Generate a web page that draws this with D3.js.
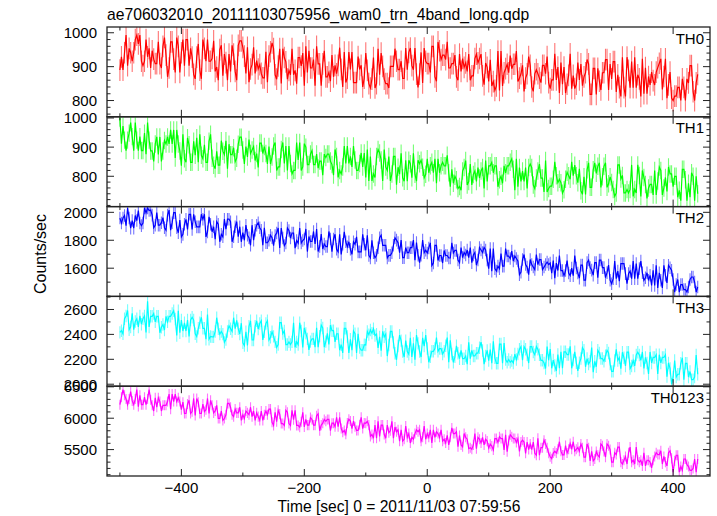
<!DOCTYPE html>
<html><head><meta charset="utf-8">
<script src="https://cdn.jsdelivr.net/npm/d3@7"></script>
<style>
body{margin:0;background:#fff}
svg{display:block}
text{font-family:"Liberation Sans",Arial,Helvetica,sans-serif;fill:#000}
</style></head>
<body><svg id="c" width="717" height="516"></svg>
<script>
const titleText = "ae706032010_20111103075956_wam0_trn_4band_long.qdp";
const xLabel = "Time [sec] 0 = 2011/11/03 07:59:56";
const yLabel = "Counts/sec";
const bandNames = ["TH0","TH1","TH2","TH3","TH0123"];
const bandColors = ["#ff0000","#00ff00","#0000ff","#00ffff","#ff00ff"];
const timeStart = -500, timeStep = 2.5;

const th0 = [
890,929,890,941,993,903,954,941,916,941,980,993,967,993,916,903,916,980,929,954,
896,947,922,909,909,973,909,896,960,986,934,870,896,973,973,922,883,986,960,883,
941,980,903,980,980,903,954,928,877,864,928,967,890,864,980,954,916,980,916,916,
924,976,886,899,860,950,963,873,937,912,860,937,886,963,937,886,860,963,976,976,
957,931,880,957,854,893,906,957,880,918,893,906,880,867,867,944,854,931,944,970,
953,876,863,902,953,850,953,927,914,863,889,876,953,876,889,850,927,927,902,940,
844,960,883,947,896,896,921,844,960,908,908,844,908,947,870,870,883,857,934,870,
904,879,904,956,892,840,943,853,866,943,892,943,853,853,853,930,892,904,840,866,
940,889,850,837,863,927,837,850,953,876,940,901,863,850,850,837,901,901,901,953,
916,891,891,916,865,865,955,891,942,955,903,891,955,878,839,878,942,852,955,916,
909,909,883,960,960,870,857,973,947,921,934,934,921,973,896,896,909,909,934,870,
860,937,886,924,898,911,886,937,860,873,873,924,937,911,924,937,873,847,911,898,
856,920,843,856,830,843,946,830,946,843,882,894,907,882,933,894,907,907,946,856,
866,879,904,827,866,879,930,904,840,827,879,891,879,866,853,904,904,879,930,853,
835,861,861,938,861,899,822,912,848,899,822,848,874,938,835,874,835,848,912,861,
908,844,870,882,921,908,818,818,895,895,818,895,857,831,882,882,921,921,831,908,
864,915,915,825,876,838,812,928,838,812,928,889,838,915,838,928,838,876,864,812,
923,820,897,820,871,846,884,859,846,884,897,910,923,833,871,923,807,846,884,807,
800,813,813,839,839,800,864,839,800,864,852,903,903,826,800,852,877];

const th1 = [
1000,912,972,924,888,924,948,984,936,888,984,924,888,936,888,888,948,876,984,924,
887,887,851,911,935,875,935,851,887,923,911,935,911,959,911,959,863,959,911,887,
836,944,860,848,932,908,848,848,920,872,932,848,944,872,860,908,848,848,920,944,
862,838,826,886,838,838,922,886,874,922,826,910,874,874,898,850,862,910,934,934,
890,842,902,866,926,878,890,902,854,878,830,914,914,878,902,878,842,902,842,866,
904,916,820,832,832,892,916,844,904,820,904,844,808,820,820,916,856,916,820,832,
912,900,840,840,876,888,840,840,876,828,852,852,804,876,864,876,876,852,840,804,
892,868,796,820,808,832,904,844,904,844,868,832,904,856,820,820,844,880,832,880,
796,892,784,868,784,808,796,868,892,880,856,784,892,832,820,868,784,808,868,868,
771,831,807,879,795,783,855,783,855,843,795,879,807,783,855,843,855,831,795,807,
860,812,836,848,812,860,776,860,812,836,848,836,836,872,812,764,824,776,800,788,
758,765,752,818,830,854,770,782,842,770,806,818,782,830,794,818,830,758,854,782,
836,836,848,812,836,836,764,788,800,776,836,812,836,836,848,860,824,752,860,764,
830,782,818,782,830,758,830,842,830,770,758,794,818,842,794,794,746,854,746,758,
766,766,790,850,802,778,790,778,742,754,790,814,802,790,850,802,838,802,778,826,
750,738,798,738,822,846,762,762,822,846,810,834,846,762,798,834,846,762,774,798,
779,755,731,743,839,839,791,803,743,743,755,743,755,839,731,755,743,839,803,731,
820,796,772,724,760,772,772,736,820,736,784,832,820,736,760,796,748,832,808,808,
764,800,800,728,752,716,824,824,788,716,776,728,812,800,716,800,740];

const th2 = [
1959,1923,1959,1977,1905,2031,1959,1887,1941,1887,1977,1941,2013,1923,1905,1923,2031,1995,2031,2013,
2016,1980,1890,1908,1998,1908,1908,1926,1962,1890,1872,1980,2016,1872,1926,1998,1998,1890,1854,1944,
1824,1842,1914,1950,1878,1986,1986,1878,1986,1932,1896,1896,1896,1986,1950,1986,1824,1860,1968,1914,
1861,1897,1807,1933,1915,1789,1843,1825,1951,1879,1951,1951,1933,1789,1825,1897,1933,1825,1897,1789,
1854,1800,1908,1836,1818,1764,1908,1800,1872,1908,1926,1890,1872,1764,1890,1782,1782,1800,1836,1818,
1762,1834,1852,1888,1744,1888,1816,1762,1780,1888,1870,1816,1852,1852,1744,1798,1780,1888,1780,1798,
1809,1881,1719,1827,1791,1791,1863,1773,1881,1719,1755,1845,1737,1773,1755,1755,1863,1809,1719,1809,
1843,1735,1717,1843,1699,1771,1861,1789,1753,1789,1735,1699,1789,1771,1825,1717,1717,1717,1843,1771,
1728,1836,1692,1674,1800,1710,1674,1692,1746,1818,1836,1764,1764,1764,1674,1692,1692,1710,1764,1818,
1801,1783,1711,1801,1675,1675,1747,1711,1711,1747,1747,1801,1657,1783,1693,1639,1693,1801,1711,1729,
1709,1745,1781,1619,1637,1763,1763,1655,1691,1691,1637,1727,1691,1691,1673,1673,1781,1709,1727,1727,
1658,1640,1748,1676,1712,1694,1730,1676,1748,1640,1694,1712,1622,1658,1748,1730,1712,1748,1730,1658,
1597,1741,1579,1741,1597,1579,1615,1597,1705,1615,1615,1741,1687,1687,1669,1723,1651,1687,1669,1651,
1554,1572,1662,1698,1626,1608,1554,1662,1626,1608,1590,1698,1626,1662,1662,1590,1608,1626,1644,1626,
1637,1565,1655,1529,1637,1583,1691,1583,1583,1547,1583,1655,1565,1547,1601,1547,1691,1601,1565,1529,
1622,1622,1514,1514,1640,1658,1604,1586,1550,1640,1640,1532,1658,1658,1604,1604,1532,1568,1622,1514,
1489,1525,1651,1525,1579,1507,1633,1633,1633,1561,1489,1561,1579,1525,1651,1525,1633,1525,1597,1651,
1567,1513,1531,1567,1513,1549,1477,1585,1477,1621,1459,1567,1513,1459,1621,1549,1495,1621,1603,1585,
1519,1429,1483,1519,1429,1483,1483,1447,1447,1429,1465,1519,1537,1537,1501,1429,1465];

const th3 = [
2416,2430,2405,2526,2548,2592,2438,2460,2570,2438,2504,2526,2460,2548,2482,2526,2548,2416,2665,2460,
2545,2545,2567,2501,2545,2545,2413,2457,2479,2435,2545,2501,2545,2545,2567,2589,2523,2391,2589,2413,
2515,2427,2493,2427,2515,2383,2515,2537,2515,2405,2383,2449,2493,2537,2449,2449,2361,2559,2361,2383,
2380,2380,2424,2534,2446,2402,2424,2402,2336,2358,2424,2468,2446,2424,2534,2446,2512,2446,2402,2490,
2333,2311,2421,2311,2465,2509,2355,2355,2465,2509,2443,2487,2509,2355,2421,2487,2509,2355,2377,2421,
2384,2340,2296,2318,2494,2494,2406,2428,2318,2318,2340,2318,2340,2494,2296,2340,2318,2494,2428,2296,
2452,2408,2364,2276,2342,2364,2364,2298,2452,2298,2386,2474,2452,2298,2342,2408,2320,2474,2430,2430,
2339,2405,2405,2273,2317,2251,2449,2449,2383,2251,2361,2273,2427,2405,2251,2405,2295,2273,2273,2317,
2314,2424,2398,2436,2410,2445,2390,2402,2292,2380,2270,2424,2380,2402,2226,2314,2424,2424,2336,2248,
2196,2306,2394,2350,2262,2218,2350,2262,2240,2372,2218,2328,2196,2394,2328,2262,2218,2372,2306,2394,
2286,2176,2220,2264,2264,2286,2374,2264,2286,2286,2242,2264,2308,2374,2176,2352,2242,2176,2220,2308,
2249,2205,2271,2205,2205,2227,2161,2337,2205,2271,2227,2227,2249,2249,2293,2337,2271,2161,2227,2271,
2190,2278,2168,2344,2212,2168,2168,2322,2322,2168,2330,2198,2176,2198,2176,2190,2170,2242,2198,2242,
2280,2302,2192,2302,2280,2236,2170,2302,2302,2258,2236,2302,2280,2236,2192,2192,2170,2126,2302,2192,
2282,2128,2194,2150,2106,2238,2128,2260,2128,2260,2260,2238,2238,2304,2128,2194,2260,2172,2106,2172,
2206,2294,2272,2140,2206,2162,2184,2294,2096,2184,2140,2272,2250,2206,2206,2184,2228,2272,2250,2162,
2103,2103,2191,2279,2191,2213,2125,2257,2213,2147,2257,2257,2125,2147,2191,2147,2235,2257,2235,2191,
2259,2127,2215,2171,2083,2259,2171,2215,2215,2237,2083,2237,2171,2215,2215,2237,2061,2171,2127,2000,
2058,2190,2058,2080,2080,2168,2212,2036,2168,2168,2058,2102,2036,2036,2058,2234,2080];

const th0123 = [
6215,6335,6455,6365,6305,6215,6305,6425,6275,6215,6305,6455,6185,6365,6215,6215,6335,6215,6305,6455,
6295,6205,6115,6325,6175,6325,6265,6115,6205,6205,6205,6265,6385,6145,6385,6265,6385,6265,6325,6265,
6135,6255,6075,6075,6225,6285,6075,6105,6315,6045,6315,6255,6075,6075,6225,6105,6135,6315,6075,6285,
6205,6085,6115,6205,5995,5995,6115,5965,5995,6055,6235,6235,6175,6055,6025,6145,6085,6085,6175,5965,
6055,5995,6115,6085,6055,6175,6025,6115,5965,6085,6025,5965,6115,5965,6055,6115,6055,6145,6145,5935,
5885,6095,5945,6125,6065,5915,5915,5885,6125,6095,5915,5885,6125,5975,6125,5885,5885,5855,5945,6095,
5860,5980,5890,5890,6010,5980,5890,5890,6040,6070,5800,5890,5920,5980,5950,5980,5980,5800,5920,5920,
5865,6015,5865,6015,5835,5775,5805,5745,5925,5985,5955,5835,5955,5865,5805,5805,5895,6015,5835,5925,
5920,5950,5890,5710,5740,5680,5890,5680,5950,5710,5890,5890,5740,5680,5890,5770,5800,5950,5680,5860,
5785,5815,5635,5815,5635,5665,5875,5695,5755,5605,5695,5665,5755,5815,5785,5815,5635,5695,5875,5665,
5755,5695,5815,5605,5815,5695,5785,5755,5695,5815,5635,5665,5605,5725,5575,5695,5845,5755,5755,5785,
5545,5725,5575,5545,5755,5695,5665,5515,5530,5505,5575,5755,5515,5695,5665,5605,5695,5575,5665,5635,
5525,5585,5555,5495,5675,5675,5615,5705,5675,5675,5495,5735,5465,5645,5735,5705,5675,5675,5615,5675,
5470,5620,5650,5620,5440,5620,5500,5590,5500,5620,5440,5410,5680,5410,5530,5530,5650,5590,5530,5440,
5385,5355,5445,5475,5445,5505,5625,5475,5415,5415,5565,5445,5505,5595,5505,5625,5475,5505,5535,5475,
5590,5530,5380,5380,5590,5530,5320,5470,5320,5350,5470,5410,5380,5590,5560,5470,5380,5590,5560,5500,
5300,5300,5450,5420,5540,5540,5300,5270,5330,5390,5270,5450,5540,5300,5330,5270,5540,5330,5300,5330,
5240,5450,5240,5330,5330,5300,5210,5330,5390,5450,5420,5420,5480,5270,5390,5300,5240,5450,5480,5360,
5140,5320,5410,5410,5140,5230,5170,5350,5350,5260,5230,5170,5170,5200,5350,5140,5350];

const bandValues = [th0, th1, th2, th3, th0123];
const bandErrors = [32, 30, 45, 50, 80];
const yDomains = [[752,1017],[696,1004],[1398,2041],[1984,2705],[5079,6510]];
const yMajorTicks = [[800,900,1000],[800,900,1000],[1600,1800,2000],[2000,2200,2400,2600],[5500,6000,6500]];
const yMinorStep = [20,20,100,100,100];
const xDomain = [-521, 460];
const xMajorTicks = [-400,-200,0,200,400];
const xMinorTicks = [-500,-300,-100,100,300];

const svg = d3.select("#c");
const L = 107, R = 710, T = 27, B = 476;
const nP = bandNames.length, pH = (B - T) / nP;
const x = d3.scaleLinear().domain(xDomain).range([L, R]);
const majLen = 7, minLen = 3.5;

svg.append("text").attr("x", L).attr("y", 20).attr("font-size", 15.7).text(titleText);

bandNames.forEach((name, i) => {
  const top = T + i * pH, bot = top + pH;
  const y = d3.scaleLinear().domain(yDomains[i]).range([bot, top]);
  const vals = bandValues[i];
  const pts = vals.map((v, k) => ({t: timeStart + k * timeStep, v}));
  const clipId = "clip" + i;
  svg.append("clipPath").attr("id", clipId).append("rect")
    .attr("x", L).attr("y", top).attr("width", R - L).attr("height", pH);
  const g = svg.append("g").attr("clip-path", `url(#${clipId})`);
  const e = bandErrors[i];
  g.selectAll("line.err").data(pts).join("line")
    .attr("x1", d => x(d.t)).attr("x2", d => x(d.t))
    .attr("y1", d => y(d.v - e)).attr("y2", d => y(d.v + e))
    .attr("stroke", bandColors[i]).attr("stroke-opacity", 0.55).attr("stroke-width", 1.1);
  g.append("path").datum(pts)
    .attr("d", d3.line().x(d => x(d.t)).y(d => y(d.v)))
    .attr("fill", "none").attr("stroke", bandColors[i]).attr("stroke-width", 1.2);

  svg.append("rect").attr("x", L).attr("y", top).attr("width", R - L).attr("height", pH)
    .attr("fill", "none").attr("stroke", "#222").attr("stroke-width", 1.3);

  const ax = svg.append("g").attr("stroke", "#222").attr("stroke-width", 1);
  const minors = d3.range(Math.ceil(yDomains[i][0] / yMinorStep[i]) * yMinorStep[i], yDomains[i][1], yMinorStep[i])
    .filter(v => !yMajorTicks[i].includes(v));
  const yt = yMajorTicks[i].map(v => ({v, len: majLen})).concat(minors.map(v => ({v, len: minLen})));
  yt.forEach(d => {
    const yy = y(d.v);
    if (yy < top - 0.5 || yy > bot + 0.5) return;
    ax.append("line").attr("x1", L).attr("x2", L + d.len).attr("y1", yy).attr("y2", yy);
    ax.append("line").attr("x1", R).attr("x2", R - d.len).attr("y1", yy).attr("y2", yy);
  });
  const xt = xMajorTicks.map(v => ({v, len: majLen})).concat(xMinorTicks.map(v => ({v, len: minLen})));
  xt.forEach(d => {
    const xx = x(d.v);
    ax.append("line").attr("x1", xx).attr("x2", xx).attr("y1", top).attr("y2", top + d.len);
    ax.append("line").attr("x1", xx).attr("x2", xx).attr("y1", bot).attr("y2", bot - d.len);
  });

  yMajorTicks[i].forEach(v => {
    svg.append("text").attr("x", 97).attr("y", y(v) + 5.5)
      .attr("text-anchor", "end").attr("font-size", 15).text(v);
  });
  svg.append("text").attr("x", 704).attr("y", top + 16.5)
    .attr("text-anchor", "end").attr("font-size", 15).text(name);
});

xMajorTicks.forEach(v => {
  svg.append("text").attr("x", x(v)).attr("y", 493).attr("text-anchor", "middle")
    .attr("font-size", 15).text(d3.format("")(v));
});
svg.append("text").attr("x", 399).attr("y", 512).attr("text-anchor", "middle")
  .attr("font-size", 15.6).text(xLabel);
svg.append("text").attr("transform", "translate(46,254) rotate(-90)")
  .attr("text-anchor", "middle").attr("font-size", 16).text(yLabel);
</script></body></html>
